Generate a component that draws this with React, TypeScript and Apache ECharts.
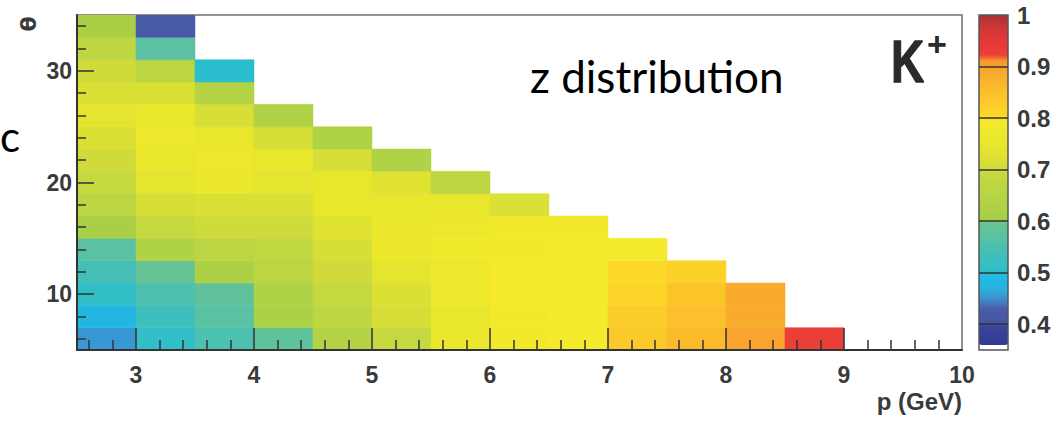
import React, { useEffect, useRef } from 'react';
import * as echarts from 'echarts';

// ---------- data ----------
// momentum bins (GeV), lower edges, bin width 0.5
const P_BIN_STARTS = [2.5, 3.0, 3.5, 4.0, 4.5, 5.0, 5.5, 6.0, 6.5, 7.0, 7.5, 8.0, 8.5];
const P_BIN_WIDTH = 0.5;
// theta bins (deg), first lower edge 5, bin width 2
const THETA_FIRST = 5;
const THETA_BIN_WIDTH = 2;

// z values per momentum bin, listed from theta bin 5–7 upward
const Z_P2_5 = [0.455, 0.48, 0.51, 0.54, 0.57, 0.61, 0.66, 0.69, 0.70, 0.72, 0.74, 0.72, 0.70, 0.67, 0.61];
const Z_P3_0 = [0.51, 0.53, 0.55, 0.59, 0.63, 0.69, 0.71, 0.74, 0.75, 0.77, 0.75, 0.72, 0.66, 0.57, 0.42];
const Z_P3_5 = [0.55, 0.57, 0.58, 0.62, 0.66, 0.70, 0.72, 0.76, 0.77, 0.75, 0.71, 0.64, 0.50];
const Z_P4_0 = [0.58, 0.62, 0.63, 0.66, 0.68, 0.70, 0.72, 0.74, 0.75, 0.71, 0.63];
const Z_P4_5 = [0.64, 0.67, 0.69, 0.70, 0.71, 0.73, 0.75, 0.75, 0.71, 0.63];
const Z_P5_0 = [0.69, 0.71, 0.72, 0.74, 0.76, 0.76, 0.75, 0.73, 0.63];
const Z_P5_5 = [0.76, 0.75, 0.77, 0.77, 0.78, 0.77, 0.75, 0.67];
const Z_P6_0 = [0.785, 0.785, 0.79, 0.79, 0.785, 0.785, 0.72];
const Z_P6_5 = [0.795, 0.795, 0.795, 0.79, 0.79, 0.785];
const Z_P7_0 = [0.83, 0.825, 0.81, 0.803, 0.795];
const Z_P7_5 = [0.86, 0.85, 0.84, 0.815];
const Z_P8_0 = [0.895, 0.885, 0.885];
const Z_P8_5 = [0.93];
const Z_COLUMNS = [Z_P2_5, Z_P3_0, Z_P3_5, Z_P4_0, Z_P4_5, Z_P5_0, Z_P5_5, Z_P6_0, Z_P6_5, Z_P7_0, Z_P7_5, Z_P8_0, Z_P8_5];

const X_MIN = 2.5;
const X_MAX = 10;
const Y_MIN = 5;
const Y_MAX = 35;
const X_TICK_LABELS = [3, 4, 5, 6, 7, 8, 9, 10];
const X_MAJOR_TICKS = [3, 4, 5, 6, 7, 8, 9];
const Y_TICK_LABELS = [10, 20, 30];
const Y_MINOR_TICKS = [6, 8, 12, 14, 16, 18, 22, 24, 26, 28, 32, 34];
const Z_MIN = 0.35;
const Z_PALETTE_MIN = 0.36;
const Z_MAX = 1;
const COLORBAR_LABELS = [0.4, 0.5, 0.6, 0.7, 0.8, 0.9, 1];
const COLORBAR_TICKS = [0.4, 0.5, 0.6, 0.7, 0.8, 0.9];

// ---------- palette ----------
const PALETTE_STOPS: [number, string][] = [
  [0.36, '#2F3B91'], [0.399, '#3B469B'], [0.4, '#4555A3'], [0.43, '#4A5CA8'],
  [0.45, '#3E90CE'], [0.47, '#27B2E2'], [0.499, '#1FBCE6'], [0.5, '#2CBDCB'],
  [0.55, '#4CC0B1'], [0.599, '#6DC48E'], [0.6, '#A6CE48'], [0.65, '#B7D444'],
  [0.699, '#C8D93F'], [0.7, '#D2DC39'], [0.75, '#E8E72C'], [0.799, '#F6EA2B'],
  [0.8, '#FCDA28'], [0.85, '#FBC02B'], [0.88, '#F9AE2E'], [0.915, '#F69730'],
  [0.918, '#EE4036'], [0.95, '#E43A38'], [0.98, '#CB3537'], [1.0, '#A83037'],
];

function hexToRgb(h: string) {
  const n = parseInt(h.slice(1), 16);
  return [(n >> 16) & 255, (n >> 8) & 255, n & 255];
}
function paletteAt(v: number) {
  let i = 0;
  while (i < PALETTE_STOPS.length - 2 && v > PALETTE_STOPS[i + 1][0]) i++;
  const [v0, c0] = PALETTE_STOPS[i];
  const [v1, c1] = PALETTE_STOPS[i + 1];
  const t = Math.max(0, Math.min(1, (v - v0) / (v1 - v0)));
  const a = hexToRgb(c0);
  const b = hexToRgb(c1);
  const c = a.map((x, k) => Math.round(x + (b[k] - x) * t));
  return `rgb(${c[0]},${c[1]},${c[2]})`;
}
function buildPalette(n: number) {
  const out: string[] = [];
  for (let i = 0; i < n; i++) {
    out.push(paletteAt(Z_PALETTE_MIN + ((Z_MAX - Z_PALETTE_MIN) * i) / (n - 1)));
  }
  return out;
}

function buildCells() {
  const cells: number[][] = [];
  Z_COLUMNS.forEach((col, ci) => {
    col.forEach((z, ri) => {
      cells.push([P_BIN_STARTS[ci], THETA_FIRST + ri * THETA_BIN_WIDTH, z]);
    });
  });
  return cells;
}

const AXIS_COLOR = '#333333';
const LABEL_COLOR = '#3a3a3a';
const LABEL_FONT = 'Liberation Sans';

export default function App() {
  const ref = useRef<HTMLDivElement>(null);
  useEffect(() => {
    if (!ref.current) return;
    const chart = echarts.init(ref.current, null, { renderer: 'svg' });
    const xMinor: number[] = [];
    for (let i = 13; i <= 49; i++) {
      if (i % 5 !== 0) xMinor.push(i / 5);
    }
    const labelStyle = {
      fontFamily: LABEL_FONT,
      fontWeight: 'bold' as const,
      fontSize: 23,
      color: LABEL_COLOR,
    };
    const option: any = {
      animation: false,
      backgroundColor: '#ffffff',
      grid: [
        { left: 77, top: 15, width: 885, height: 335, show: true, borderColor: '#707070', borderWidth: 1.5, z: 0 },
        { left: 979, top: 15, width: 29, height: 335, show: true, borderColor: '#555555', borderWidth: 1.5, z: 10 },
      ],
      xAxis: [
        {
          type: 'value', gridIndex: 0, min: X_MIN, max: X_MAX, position: 'bottom',
          axisLine: { show: true, onZero: false, lineStyle: { color: AXIS_COLOR, width: 2 } },
          axisTick: { show: true, inside: true, length: 22, customValues: X_MAJOR_TICKS, lineStyle: { color: AXIS_COLOR, width: 1.5 } },
          axisLabel: { ...labelStyle, margin: 13, customValues: X_TICK_LABELS },
          splitLine: { show: false },
          z: 5,
        },
        {
          type: 'value', gridIndex: 0, min: X_MIN, max: X_MAX, position: 'bottom',
          axisLine: { show: false, onZero: false },
          axisTick: { show: true, inside: true, length: 10, customValues: xMinor, lineStyle: { color: AXIS_COLOR, width: 1.5 } },
          axisLabel: { show: false },
          splitLine: { show: false },
          z: 5,
        },
        { type: 'value', gridIndex: 1, min: 0, max: 1, show: false, axisLine: { onZero: false } },
      ],
      yAxis: [
        {
          type: 'value', gridIndex: 0, min: Y_MIN, max: Y_MAX, position: 'left',
          axisLine: { show: true, onZero: false, lineStyle: { color: AXIS_COLOR, width: 2 } },
          axisTick: { show: true, inside: true, length: 17, customValues: Y_TICK_LABELS, lineStyle: { color: AXIS_COLOR, width: 1.5 } },
          axisLabel: { ...labelStyle, margin: 5, customValues: Y_TICK_LABELS },
          splitLine: { show: false },
          z: 5,
        },
        {
          type: 'value', gridIndex: 0, min: Y_MIN, max: Y_MAX, position: 'left',
          axisLine: { show: false, onZero: false },
          axisTick: { show: true, inside: true, length: 9, customValues: Y_MINOR_TICKS, lineStyle: { color: AXIS_COLOR, width: 1.5 } },
          axisLabel: { show: false },
          splitLine: { show: false },
          z: 5,
        },
        {
          type: 'value', gridIndex: 1, min: Z_MIN, max: Z_MAX, position: 'right',
          axisLine: { show: false, onZero: false },
          axisTick: { show: true, inside: true, length: 29, customValues: COLORBAR_TICKS, lineStyle: { color: AXIS_COLOR, width: 1.5 } },
          axisLabel: {
            ...labelStyle, fontSize: 24, margin: 9, customValues: COLORBAR_LABELS,
            formatter: (v: number) => (v === 1 ? '1' : v.toFixed(1)),
          },
          splitLine: { show: false },
          z: 10,
        },
      ],
      visualMap: {
        type: 'continuous',
        min: Z_PALETTE_MIN,
        max: Z_MAX,
        dimension: 2,
        seriesIndex: 0,
        calculable: false,
        hoverLink: false,
        orient: 'vertical',
        left: 979,
        top: 15,
        itemWidth: 29,
        itemHeight: 330,
        padding: 0,
        z: 2,
        inRange: { color: buildPalette(261) },
      },
      series: [
        {
          type: 'custom',
          xAxisIndex: 0,
          yAxisIndex: 0,
          clip: true,
          data: buildCells(),
          renderItem: (params: any, api: any) => {
            const x0 = api.value(0);
            const y0 = api.value(1);
            const p0 = api.coord([x0, y0 + THETA_BIN_WIDTH]);
            const p1 = api.coord([x0 + P_BIN_WIDTH, y0]);
            return {
              type: 'rect',
              shape: { x: p0[0], y: p0[1], width: p1[0] - p0[0], height: p1[1] - p0[1] },
              style: { fill: api.visual('color'), stroke: api.visual('color'), lineWidth: 0.5 },
            };
          },
        },
      ],
      graphic: [
        {
          type: 'text', x: 28, y: 24, rotation: Math.PI / 2,
          style: { text: 'θ', font: `bold 22px 'DejaVu Sans'`, fill: LABEL_COLOR, align: 'center', verticalAlign: 'middle' },
        },
        {
          type: 'text', x: 962, y: 389,
          style: { text: 'p (GeV)', font: `bold 24px '${LABEL_FONT}'`, fill: LABEL_COLOR, align: 'right', verticalAlign: 'top' },
        },
        {
          type: 'text', x: 530, y: 76,
          style: { text: 'z distribution', font: `44px Lato`, fill: '#000000', align: 'left', verticalAlign: 'middle' },
        },
        {
          type: 'text', x: 0, y: 136,
          style: { text: 'c', font: `42px Lato`, fill: '#000000', align: 'left', verticalAlign: 'middle' },
        },
        {
          type: 'text', x: 891, y: 61, scaleY: 1.3,
          style: { text: 'K', font: `900 46px '${LABEL_FONT}'`, fill: '#2a2a2a', align: 'left', verticalAlign: 'middle', stroke: '#2a2a2a', lineWidth: 1 },
        },
        {
          type: 'text', x: 937, y: 44,
          style: { text: '+', font: `bold 34px '${LABEL_FONT}'`, fill: '#2a2a2a', align: 'center', verticalAlign: 'middle' },
        },
      ],
    };
    chart.setOption(option);
    return () => chart.dispose();
  }, []);
  return (
    <div
      ref={ref}
      style={{ position: 'absolute', left: 0, top: 0, width: 1057, height: 424, background: '#fff' }}
    />
  );
}
